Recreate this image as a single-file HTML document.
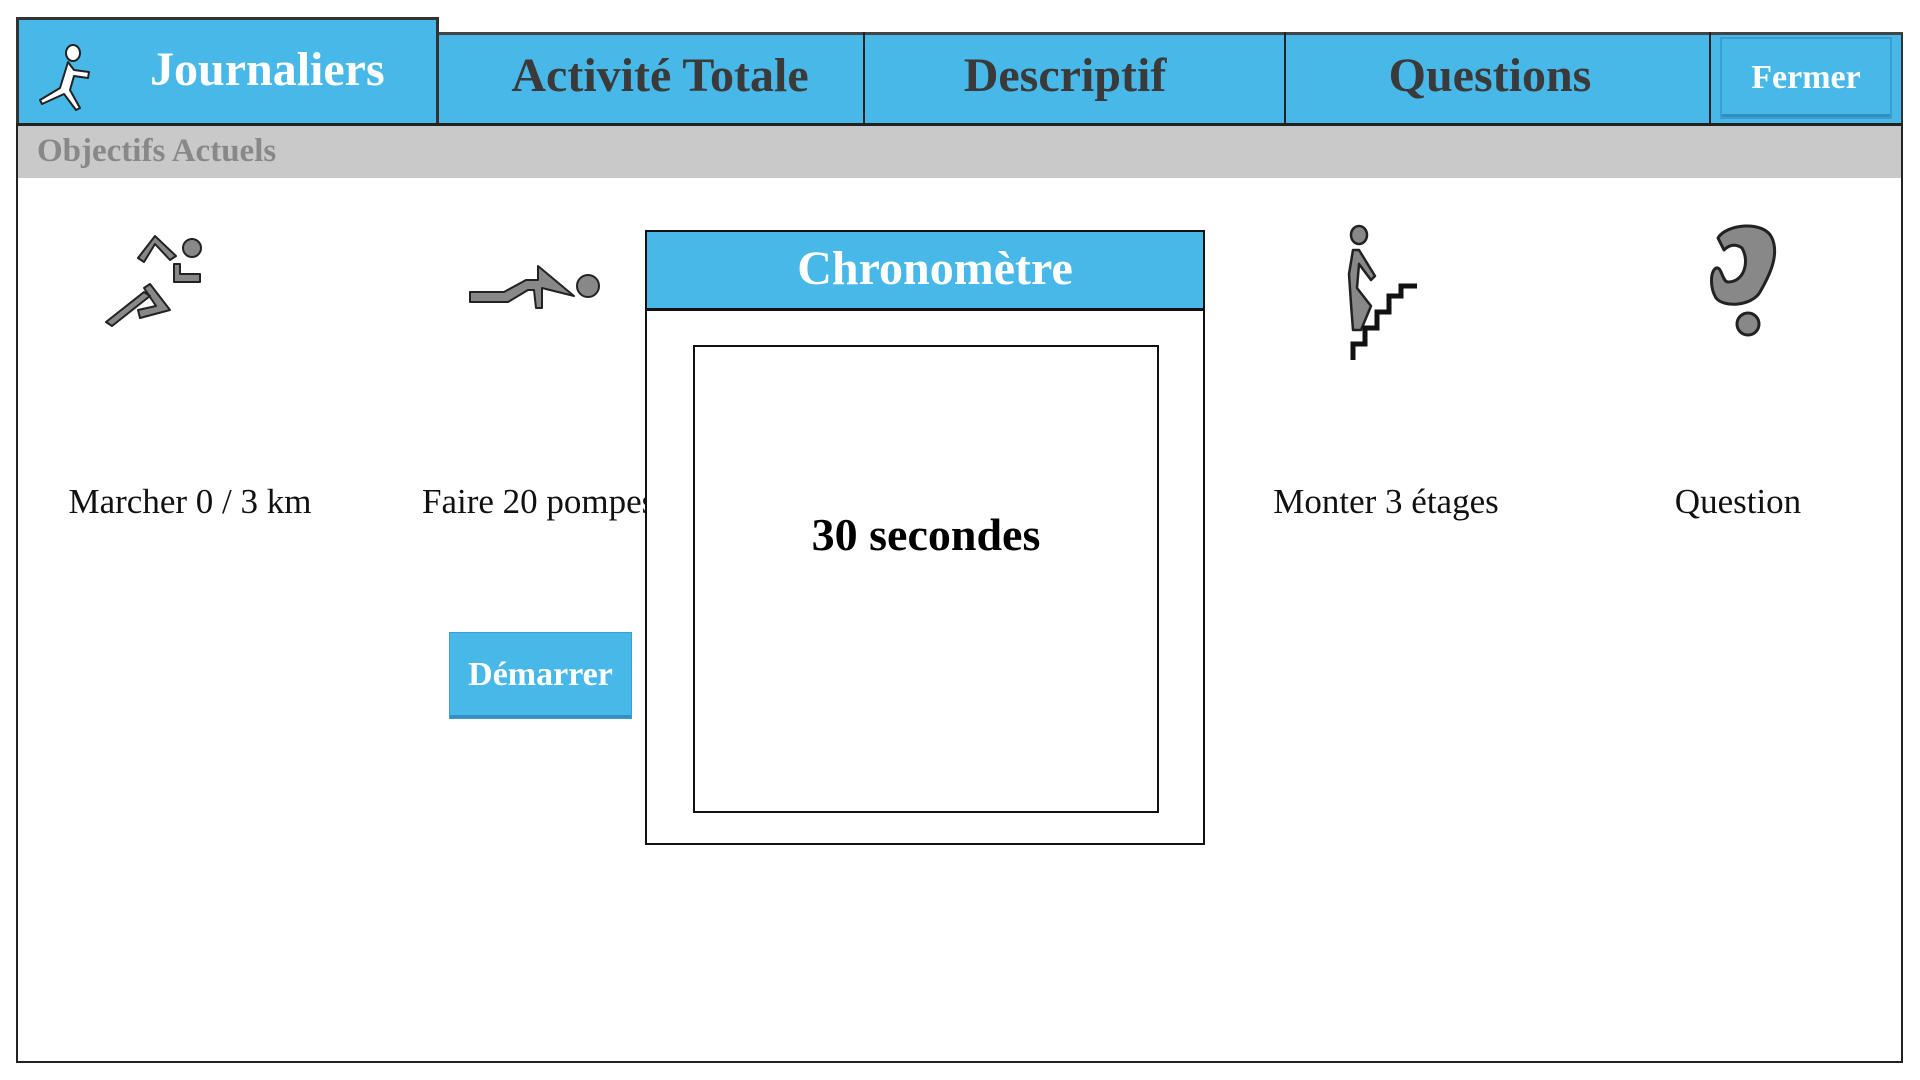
<!DOCTYPE html>
<html><head><meta charset="utf-8"><style>
body{margin:0;width:1920px;height:1080px;background:#fff;position:relative;overflow:hidden;font-family:"Liberation Serif",serif}
.a{position:absolute;box-sizing:border-box}
.t{position:absolute;white-space:nowrap;line-height:1}
.blue{background:#48b8e8}
.tab{font-weight:bold;font-size:48px;color:#3a3a3a;text-align:center}
.lab{font-size:35px;color:#111;text-align:center}
</style></head><body>
<div class="a" style="left:16px;top:32px;width:1887px;height:1031px;border:2px solid #222"></div>
<div class="a blue" style="left:16px;top:32px;width:1887px;height:93px;border:2px solid #333;border-top:3px solid #444"></div>
<div class="a blue" style="left:16px;top:17px;width:423px;height:108px;border:3px solid #333;border-bottom:none"></div>
<div class="a" style="left:863px;top:32px;width:2px;height:93px;background:#222"></div>
<div class="a" style="left:1284px;top:32px;width:2px;height:93px;background:#222"></div>
<div class="a" style="left:1709px;top:32px;width:2px;height:93px;background:#222"></div>
<div class="a" style="left:16px;top:123px;width:1887px;height:3px;background:#222"></div>
<svg class="a" style="left:36px;top:44px" width="60" height="68" viewBox="0 0 60 68">
<g fill="#fff" stroke="#222" stroke-width="2" stroke-linejoin="round">
<ellipse cx="37" cy="9" rx="7" ry="8"/>
<path d="M32 18 L24 44 L4 56 L6 60 L28 50 L40 66 L44 64 L34 46 L38 32 L52 34 L53 28 L38 26 Z"/>
</g></svg>
<div class="t" style="left:150px;top:46px;font-weight:bold;font-size:48px;color:#fff">Journaliers</div>
<div class="t tab" style="left:460px;width:400px;top:52px">Activité Totale</div>
<div class="t tab" style="left:855px;width:420px;top:52px">Descriptif</div>
<div class="t tab" style="left:1278px;width:424px;top:52px">Questions</div>
<div class="a blue" style="left:1720px;top:37px;width:172px;height:82px;border:2px solid #3a9fd0;box-shadow:inset 0 -3px 0 #2f8fbf;"></div>
<div class="t" style="left:1720px;width:172px;text-align:center;top:61px;font-weight:bold;font-size:34px;color:#fff">Fermer</div>
<div class="a" style="left:18px;top:126px;width:1883px;height:52px;background:#c9c9c9"></div>
<div class="t" style="left:37px;top:135px;font-weight:bold;font-size:33px;color:#888">Objectifs Actuels</div>
<svg class="a" style="left:100px;top:230px" width="110" height="100" viewBox="0 0 110 100">
<g fill="#888" stroke="#222" stroke-width="2" stroke-linejoin="round">
<circle cx="92" cy="18" r="9"/>
<path d="M38 28 L55 6 L76 26 L70 30 L55 14 L44 32 Z"/>
<path d="M74 34 L80 34 L80 44 L100 44 L100 52 L74 52 Z"/>
<path d="M44 58 L50 54 L70 80 L40 88 L38 80 L56 76 Z"/>
<path d="M44 62 L50 66 L12 96 L6 92 Z"/>
</g></svg>
<svg class="a" style="left:466px;top:262px" width="140" height="52" viewBox="0 0 140 52">
<g fill="#888" stroke="#222" stroke-width="2" stroke-linejoin="round">
<circle cx="122" cy="24" r="11"/>
<path d="M4 30 L38 30 L60 18 L72 18 L72 4 L108 34 L76 26 L76 46 L70 46 L68 28 L62 28 L42 40 L4 40 Z"/>
</g></svg>
<svg class="a" style="left:1345px;top:224px" width="80" height="140" viewBox="0 0 80 140">
<g fill="#888" stroke="#222" stroke-width="2.5" stroke-linejoin="round">
<ellipse cx="14" cy="11" rx="8" ry="9"/>
<path d="M8 26 L14 26 L30 52 L26 56 L14 40 L12 64 L26 82 L16 106 L8 106 L6 80 L4 50 Z"/>
</g>
<path d="M8 136 L8 120 L20 120 L20 104 L32 104 L32 88 L44 88 L44 72 L56 72 L56 62 L72 62" fill="none" stroke="#111" stroke-width="5"/>
</svg>
<svg class="a" style="left:1704px;top:222px" width="84" height="116" viewBox="0 0 84 116">
<g fill="#888" stroke="#222" stroke-width="3" stroke-linejoin="round">
<path d="M14 16 C22 2 60 -2 68 16 C76 34 64 56 56 70 C48 84 20 86 12 76 C6 66 6 50 12 46 C18 44 18 60 24 60 C40 60 46 40 38 26 C32 22 26 22 20 28 Z"/>
<ellipse cx="44" cy="102" rx="11" ry="11"/>
</g></svg>
<div class="t lab" style="left:40px;width:300px;top:484px">Marcher 0 / 3 km</div>
<div class="t lab" style="left:422px;top:484px">Faire 20 pompes</div>
<div class="t lab" style="left:1236px;width:300px;top:484px">Monter 3 étages</div>
<div class="t lab" style="left:1588px;width:300px;top:484px">Question</div>
<div class="a blue" style="left:449px;top:632px;width:183px;height:87px;border:1px solid #3a9fd0;box-shadow:inset 0 -3px 0 #3191c2"></div>
<div class="t" style="left:449px;width:183px;text-align:center;top:658px;font-weight:bold;font-size:34px;color:#fff">Démarrer</div>
<div class="a" style="left:645px;top:230px;width:560px;height:615px;background:#fff;border:2px solid #111"></div>
<div class="a blue" style="left:645px;top:230px;width:560px;height:81px;border:2px solid #111;border-bottom:3px solid #111"></div>
<div class="t" style="left:655px;width:560px;text-align:center;top:245px;font-weight:bold;font-size:48px;color:#fff">Chronomètre</div>
<div class="a" style="left:693px;top:345px;width:466px;height:468px;border:2px solid #111"></div>
<div class="t" style="left:693px;width:466px;text-align:center;top:512px;font-weight:bold;font-size:46px;color:#000">30 secondes</div>
</body></html>
